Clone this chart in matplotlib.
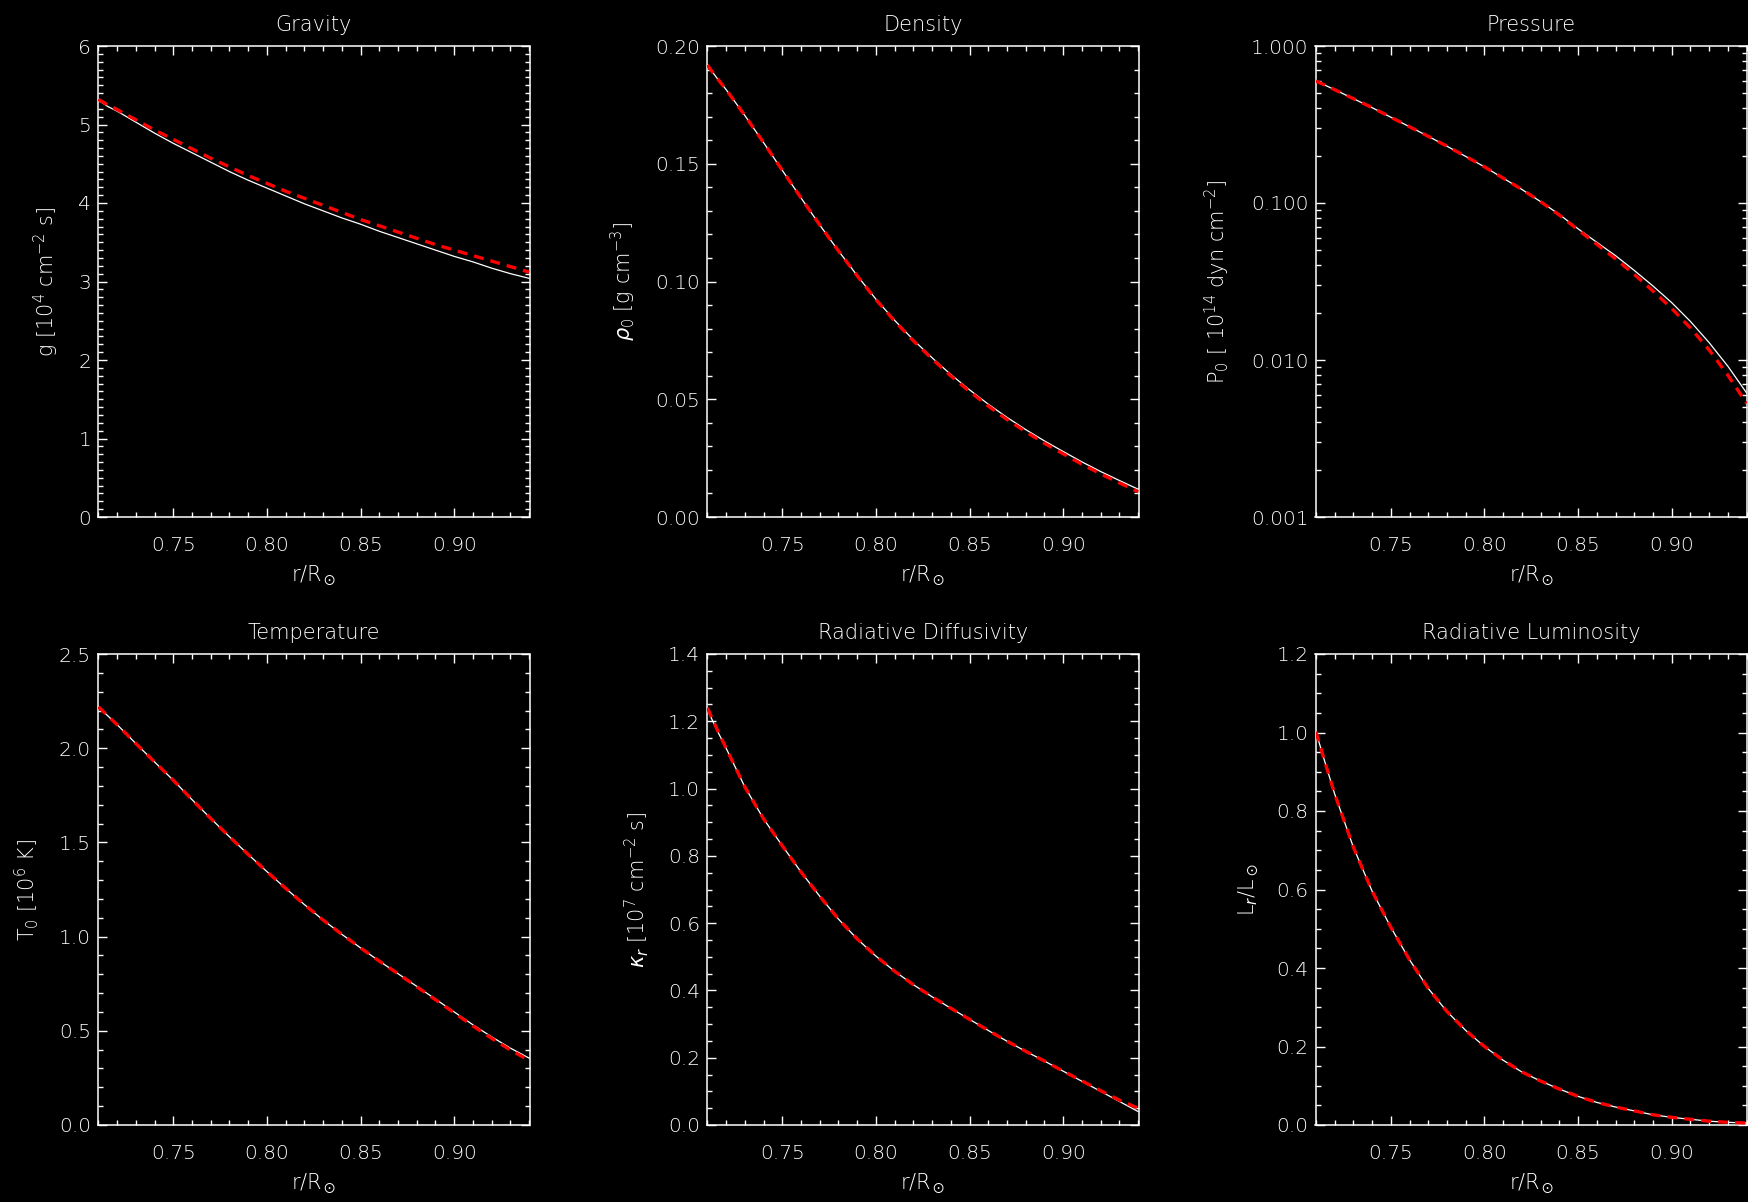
import matplotlib
matplotlib.use('Agg')
import matplotlib.pyplot as plt
from matplotlib.ticker import MultipleLocator, FixedLocator, LogLocator, NullFormatter, FormatStrFormatter

plt.rcParams['font.family'] = ['DejaVu Sans']
plt.rcParams['font.weight'] = 'light'
plt.rcParams['axes.titleweight'] = 'light'
plt.rcParams['axes.labelweight'] = 'light'
plt.rcParams['mathtext.fontset'] = 'dejavusans'

# ---------------- data ----------------
r = [0.71, 0.715, 0.72, 0.73, 0.74, 0.75, 0.76, 0.77, 0.78, 0.79, 0.80, 0.81, 0.82,
     0.83, 0.84, 0.85, 0.86, 0.87, 0.88, 0.89, 0.90, 0.91, 0.92, 0.93, 0.94]

gravity_model = [5.31, 5.23, 5.17, 5.03, 4.89, 4.76, 4.64, 4.52, 4.40, 4.29, 4.19, 4.09, 3.99,
                 3.90, 3.81, 3.73, 3.64, 3.56, 3.48, 3.40, 3.32, 3.25, 3.17, 3.10, 3.04]
gravity_ref = [5.32, 5.25, 5.19, 5.06, 4.93, 4.81, 4.69, 4.57, 4.46, 4.35, 4.25, 4.15, 4.06,
               3.97, 3.88, 3.79, 3.71, 3.63, 3.55, 3.47, 3.40, 3.33, 3.26, 3.19, 3.12]

density_model = [0.1919, 0.1865, 0.1815, 0.1705, 0.1590, 0.1472, 0.1355, 0.1240, 0.1130, 0.1025,
                 0.0925, 0.0835, 0.0752, 0.0676, 0.0605, 0.0540, 0.0479, 0.0423, 0.0371, 0.0323,
                 0.0278, 0.0234, 0.0193, 0.0155, 0.0118]
density_ref = [0.1919, 0.1865, 0.1815, 0.1705, 0.1590, 0.1472, 0.1355, 0.1240, 0.1130, 0.1024,
               0.0923, 0.0832, 0.0748, 0.0671, 0.0599, 0.0533, 0.0471, 0.0414, 0.0362, 0.0313,
               0.0268, 0.0224, 0.0183, 0.0145, 0.0107]

pressure_model = [0.598, 0.562, 0.527, 0.462, 0.405, 0.352, 0.306, 0.266, 0.230, 0.198, 0.170,
                  0.144, 0.122, 0.102, 0.0845, 0.0685, 0.0562, 0.0462, 0.0372, 0.0296, 0.0232,
                  0.0176, 0.0129, 0.00912, 0.00617]
pressure_ref = [0.598, 0.562, 0.527, 0.462, 0.405, 0.352, 0.306, 0.266, 0.230, 0.198, 0.170,
                0.144, 0.122, 0.102, 0.0838, 0.0675, 0.0546, 0.0441, 0.0351, 0.0275, 0.0213,
                0.0160, 0.0116, 0.0080, 0.0053]

temperature_model = [2.22, 2.172, 2.125, 2.025, 1.927, 1.83, 1.727, 1.627, 1.530, 1.436, 1.345,
                     1.256, 1.170, 1.088, 1.012, 0.940, 0.870, 0.803, 0.736, 0.668, 0.600,
                     0.532, 0.468, 0.408, 0.355]
temperature_ref = [2.22, 2.172, 2.125, 2.025, 1.927, 1.83, 1.727, 1.627, 1.530, 1.436, 1.345,
                   1.256, 1.170, 1.088, 1.012, 0.940, 0.870, 0.803, 0.734, 0.665, 0.595,
                   0.526, 0.460, 0.398, 0.343]

diffusivity_model = [1.235, 1.175, 1.12, 1.005, 0.910, 0.830, 0.752, 0.680, 0.612, 0.553, 0.502,
                     0.457, 0.417, 0.381, 0.347, 0.314, 0.281, 0.249, 0.219, 0.190, 0.160,
                     0.130, 0.100, 0.070, 0.040]
diffusivity_ref = [1.24, 1.178, 1.12, 1.005, 0.910, 0.830, 0.752, 0.680, 0.612, 0.553, 0.502,
                   0.457, 0.417, 0.381, 0.347, 0.314, 0.281, 0.249, 0.219, 0.190, 0.160,
                   0.131, 0.102, 0.074, 0.050]

luminosity_model = [1.002, 0.922, 0.844, 0.708, 0.596, 0.504, 0.421, 0.348, 0.289, 0.241, 0.200,
                    0.165, 0.135, 0.112, 0.0916, 0.073, 0.0575, 0.0458, 0.036, 0.026, 0.0195,
                    0.0146, 0.0097, 0.0068, 0.005]
luminosity_ref = luminosity_model

titles = ["Gravity", "Density", "Pressure", "Temperature", "Radiative Diffusivity",
          "Radiative Luminosity"]
ylabels = [r"g [10$^4$ cm$^{-2}$ s]", r"$\rho_0$ [g cm$^{-3}$]",
           r"P$_0$ [ 10$^{14}$ dyn cm$^{-2}$]", r"T$_0$ [10$^6$ K]",
           r"$\kappa_r$ [10$^7$ cm$^{-2}$ s]", r"L$_r$/L$_\odot$"]
xlabel = r"r/R$_\odot$"
xticks = [0.75, 0.80, 0.85, 0.90]

# ---------------- layout ----------------
W, H = 1748, 1202
fig = plt.figure(figsize=(W / 100, H / 100), dpi=100, facecolor='black')

col_left = [98, 707, 1315.5]
row_top = [46, 654]
aw, ah = 431.5, 471

panels = [
    dict(y=(gravity_model, gravity_ref), ylim=(0, 6), major=1, minor=0.1, fmt='%d'),
    dict(y=(density_model, density_ref), ylim=(0, 0.20), major=0.05, minor=0.01, fmt='%.2f'),
    dict(y=(pressure_model, pressure_ref), ylim=(0.001, 1.0), log=True, fmt='%.3f'),
    dict(y=(temperature_model, temperature_ref), ylim=(0, 2.5), major=0.5, minor=0.1, fmt='%.1f'),
    dict(y=(diffusivity_model, diffusivity_ref), ylim=(0, 1.4), major=0.2, minor=0.05, fmt='%.1f'),
    dict(y=(luminosity_model, luminosity_ref), ylim=(0, 1.2), major=0.2, minor=0.05, fmt='%.1f'),
]
ylabel_x = [-0.085, -0.160, -0.1935, -0.132, -0.130, -0.126]

for i, p in enumerate(panels):
    rr, cc = divmod(i, 3)
    left = col_left[cc] / W
    bottom = 1 - (row_top[rr] + ah) / H
    ax = fig.add_axes([left, bottom, aw / W, ah / H])
    ax.set_facecolor('black')
    m, ref = p['y']
    ax.plot(r, m, color='white', lw=0.9, zorder=2)
    ax.plot(r, ref, color='red', lw=2.4, linestyle=(0, (3, 2.1)), zorder=3)

    ax.set_xlim(0.7098, 0.9402)
    ax.xaxis.set_major_locator(FixedLocator(xticks))
    ax.xaxis.set_minor_locator(MultipleLocator(0.01))
    ax.xaxis.set_major_formatter(FormatStrFormatter('%.2f'))

    if p.get('log'):
        ax.set_yscale('log')
        ax.set_ylim(*p['ylim'])
        ax.yaxis.set_major_locator(FixedLocator([0.001, 0.01, 0.1, 1.0]))
        ax.yaxis.set_minor_locator(LogLocator(base=10, subs=range(2, 10)))
        ax.yaxis.set_minor_formatter(NullFormatter())
    else:
        ax.set_ylim(*p['ylim'])
        ax.yaxis.set_major_locator(MultipleLocator(p['major']))
        ax.yaxis.set_minor_locator(MultipleLocator(p['minor']))
    ax.yaxis.set_major_formatter(FormatStrFormatter(p['fmt']))

    for s in ax.spines.values():
        s.set_color('white')
        s.set_linewidth(1.1)
    ax.tick_params(which='both', direction='in', top=True, right=True,
                   colors='white', labelsize=14.5, width=1.0)
    ax.tick_params(which='major', length=6.5)
    ax.tick_params(which='minor', length=3.6)
    ax.tick_params(axis='x', which='both', pad=14)
    ax.tick_params(axis='y', which='both', pad=5)

    ax.set_title(titles[i], color='white', fontsize=15, pad=11)
    ax.set_xlabel(xlabel, color='white', fontsize=15, labelpad=6)
    ax.set_ylabel(ylabels[i], color='white', fontsize=15)
    ax.yaxis.set_label_coords(ylabel_x[i], 0.5)

fig.savefig('out.png', dpi=100, facecolor='black')
